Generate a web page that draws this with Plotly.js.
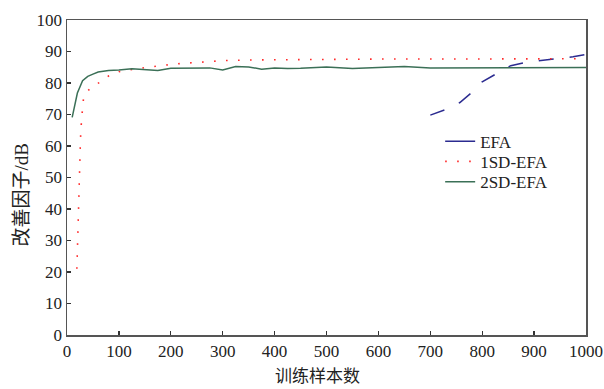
<!DOCTYPE html>
<html>
<head>
<meta charset="utf-8">
<script src="https://cdn.plot.ly/plotly-3.0.1.min.js"></script>
<style>html,body{margin:0;padding:0;background:#fff;}#chart{width:604px;height:389px;}</style>
</head>
<body>
<div id="chart"></div>
<script>
// EFA
const efaX = [700, 730, 757, 780, 800, 830, 855, 885, 915, 945, 975, 1000];
const efaY = [69.8, 71.6, 73.8, 77.0, 80.4, 83.2, 85.5, 86.6, 87.3, 87.8, 88.3, 89.1];
// 1SD-EFA
const sd1X = [19, 20, 21, 22, 23, 24, 25, 26, 28, 30, 32, 40, 50, 64, 80, 100, 125, 150, 175, 200, 225, 250, 275, 300, 350, 400, 500, 600, 700, 800, 900, 1000];
const sd1Y = [21, 28, 35, 42, 50, 56, 59.5, 62.5, 68.3, 72, 75.4, 77.5, 79, 80.3, 82.2, 83.6, 84.3, 84.9, 85.4, 85.9, 86.3, 86.5, 86.8, 87.1, 87.3, 87.4, 87.5, 87.6, 87.6, 87.7, 87.7, 87.7];
// 2SD-EFA
const sd2X = [10, 20, 30, 40, 50, 60, 80, 100, 125, 150, 175, 200, 250, 275, 300, 325, 350, 375, 400, 425, 450, 500, 550, 600, 650, 700, 750, 800, 850, 900, 950, 1000];
const sd2Y = [69.1, 76.8, 80.7, 82.1, 82.8, 83.5, 84.0, 84.1, 84.5, 84.3, 84.0, 84.7, 84.8, 84.8, 84.1, 85.2, 85.1, 84.4, 84.8, 84.6, 84.7, 85.1, 84.6, 84.9, 85.2, 84.8, 84.8, 84.9, 84.9, 85.0, 84.9, 84.9];
const names = ['EFA', '1SD-EFA', '2SD-EFA'];
const xTicks = [0, 100, 200, 300, 400, 500, 600, 700, 800, 900, 1000];
const yTicks = [0, 10, 20, 30, 40, 50, 60, 70, 80, 90, 100];
const xTitle = '训练样本数';
const yTitle = '改善因子/dB';

const FONT = 'Liberation Serif, Times New Roman, Noto Sans CJK SC, serif';
const BLUE = '#2b2b90', RED = '#ff2a2a', GREEN = '#3b7057';

const traces = [
  {x: efaX, y: efaY, name: names[0], mode: 'lines', showlegend: false, line: {color: BLUE, width: 1.5, dash: '15px,16px'}},
  // legend entry for EFA (solid sample as in the reference)
  {x: [null], y: [null], name: names[0], mode: 'lines', legend: 'legend', line: {color: BLUE, width: 1.5}},
  {x: sd1X, y: sd1Y, name: names[1], mode: 'lines', legend: 'legend2', line: {color: RED, width: 1.6, dash: '1.6px,10.4px'}},
  {x: sd2X, y: sd2Y, name: names[2], mode: 'lines', legend: 'legend3', line: {color: GREEN, width: 1.5}}
];

const axisCommon = {
  showgrid: false, zeroline: false, showline: true, mirror: true,
  linecolor: '#555', linewidth: 1.5, ticks: 'inside', ticklen: 4, tickwidth: 1.2, tickcolor: '#333',
  tickfont: {family: FONT, size: 17, color: '#222'}
};

const legFont = {family: FONT, size: 17, color: '#222'};
const legX = 0.719;
function leg(y) { return {x: legX, y: y, xanchor: 'left', yanchor: 'top', bgcolor: 'rgba(0,0,0,0)', font: legFont}; }

const layout = {
  width: 604, height: 389,
  margin: {l: 67, r: 18, t: 20, b: 54},
  paper_bgcolor: '#fff', plot_bgcolor: '#fff',
  showlegend: true,
  legend: leg(0.671),
  legend2: leg(0.607),
  legend3: leg(0.542),
  xaxis: Object.assign({}, axisCommon, {range: [0, 1000], tickvals: xTicks}),
  yaxis: Object.assign({}, axisCommon, {range: [0, 100], tickvals: yTicks}),
  annotations: [
    {text: xTitle, xref: 'paper', yref: 'paper', x: 0.4836, y: -0.1333, xanchor: 'center', yanchor: 'middle',
     showarrow: false, font: {family: FONT, size: 17, color: '#222'}},
    {text: yTitle, xref: 'paper', yref: 'paper', x: -0.0877, y: 0.444, xanchor: 'center', yanchor: 'middle',
     textangle: -90, showarrow: false, font: {family: FONT, size: 19, color: '#222'}}
  ]
};

Plotly.newPlot('chart', traces, layout, {displayModeBar: false, staticPlot: true});
</script>
</body>
</html>
